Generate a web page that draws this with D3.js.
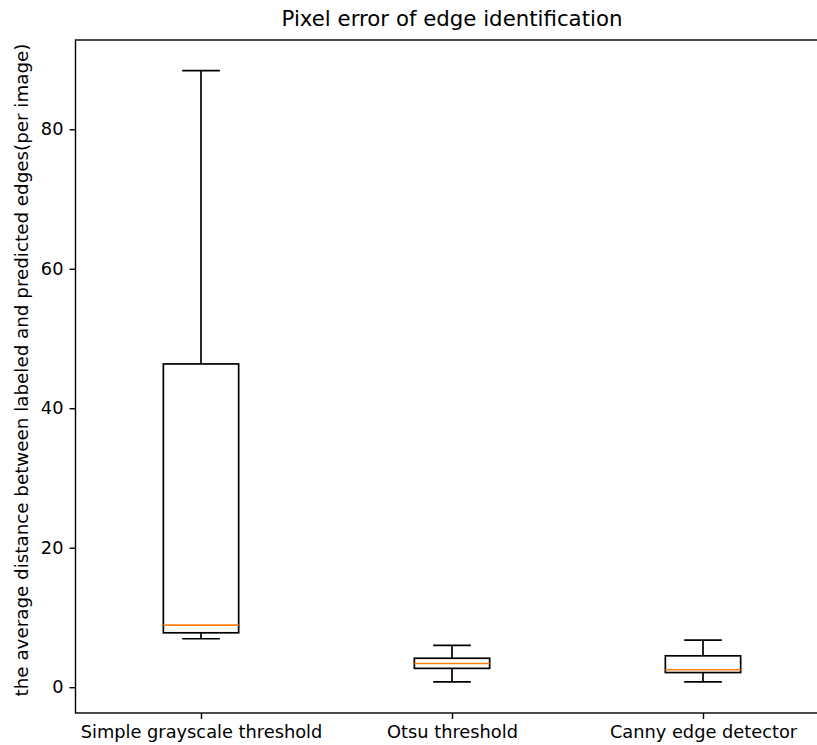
<!DOCTYPE html>
<html>
<head>
<meta charset="utf-8">
<script src="https://cdn.jsdelivr.net/npm/d3@7"></script>
<style>
  body { margin: 0; background: #fff; }
  svg { display: block; font-family: "DejaVu Sans", sans-serif; }
</style>
</head>
<body>
<svg id="chart" width="817" height="745"></svg>
<script>
const categories = ["Simple grayscale threshold", "Otsu threshold", "Canny edge detector"];
const whiskerLow  = [6.95, 0.75, 0.75];
const q1          = [7.8, 2.7, 2.1];
const medians     = [8.9, 3.4, 2.5];
const q3          = [46.35, 4.15, 4.5];
const whiskerHigh = [88.4, 6.0, 6.75];
const yTicks = [0, 20, 40, 60, 80];
const title = "Pixel error of edge identification";
const yLabel = "the average distance between labeled and predicted edges(per image)";

(function () {
const svg = d3.select("#chart");
const mLeft = 75.5, mRight = 828.5, mTop = 40, mBottom = 713;

const x = d3.scaleLinear().domain([0.5, 3.5]).range([mLeft, mRight]);
const y = d3.scaleLinear().domain([-3.7, 92.8]).range([mBottom, mTop]);

const lw = 1.7;
const g = svg.append("g");

categories.forEach((c, i) => {
  const pos = i + 1;
  const cx = x(pos);
  const bw = x(pos + 0.15) - x(pos - 0.15);
  const cw = x(pos + 0.075) - x(pos - 0.075);
  g.append("line").attr("x1", cx).attr("x2", cx).attr("y1", y(q3[i])).attr("y2", y(whiskerHigh[i]))
    .attr("stroke", "#000").attr("stroke-width", lw);
  g.append("line").attr("x1", cx).attr("x2", cx).attr("y1", y(q1[i])).attr("y2", y(whiskerLow[i]))
    .attr("stroke", "#000").attr("stroke-width", lw);
  [whiskerLow[i], whiskerHigh[i]].forEach(v => {
    g.append("line").attr("x1", cx - cw / 2).attr("x2", cx + cw / 2).attr("y1", y(v)).attr("y2", y(v))
      .attr("stroke", "#000").attr("stroke-width", lw);
  });
  g.append("rect").attr("x", cx - bw / 2).attr("width", bw)
    .attr("y", y(q3[i])).attr("height", y(q1[i]) - y(q3[i]))
    .attr("fill", "none").attr("stroke", "#000").attr("stroke-width", lw);
  g.append("line").attr("x1", cx - bw / 2).attr("x2", cx + bw / 2).attr("y1", y(medians[i])).attr("y2", y(medians[i]))
    .attr("stroke", "#ff7f0e").attr("stroke-width", lw);
});

svg.append("rect").attr("x", mLeft).attr("y", mTop).attr("width", mRight - mLeft).attr("height", mBottom - mTop)
  .attr("fill", "none").attr("stroke", "#000").attr("stroke-width", 1.4);

const yAxis = svg.append("g").attr("transform", `translate(${mLeft},0)`)
  .call(d3.axisLeft(y).tickValues(yTicks).tickSize(6).tickPadding(6).tickFormat(d3.format("d")));
yAxis.select(".domain").remove();
yAxis.selectAll("line").attr("stroke", "#000").attr("stroke-width", 1.4);
yAxis.selectAll("text").attr("font-size", 17.8).attr("fill", "#000").attr("font-family", "DejaVu Sans");

const xAxis = svg.append("g").attr("transform", `translate(0,${mBottom})`)
  .call(d3.axisBottom(x).tickValues([1, 2, 3]).tickSize(6).tickPadding(6).tickFormat((d, i) => categories[i]));
xAxis.select(".domain").remove();
xAxis.selectAll("line").attr("stroke", "#000").attr("stroke-width", 1.4);
xAxis.selectAll("text").attr("font-size", 17.8).attr("fill", "#000").attr("font-family", "DejaVu Sans");

svg.append("text").attr("x", (mLeft + mRight) / 2).attr("y", 26).attr("text-anchor", "middle")
  .attr("font-size", 21.3).attr("fill", "#000").text(title);

svg.append("text").attr("transform", `translate(28,370) rotate(-90)`)
  .attr("text-anchor", "middle").attr("font-size", 18.3).attr("fill", "#000").text(yLabel);
})();
</script>
</body>
</html>
